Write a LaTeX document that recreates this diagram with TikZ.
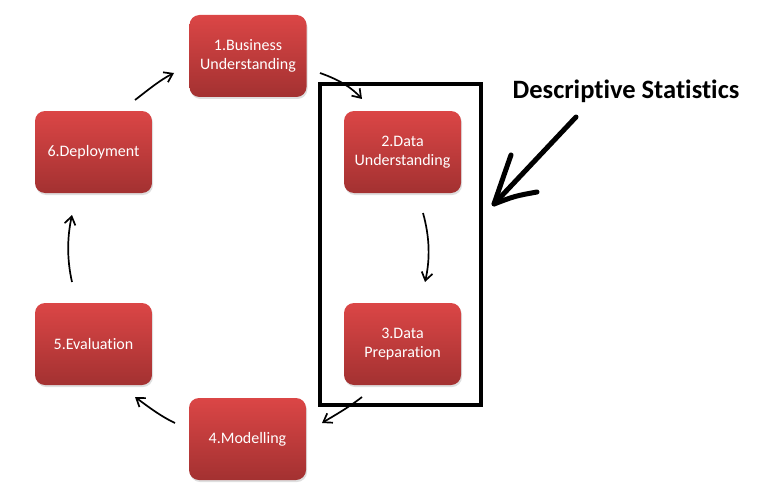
\documentclass[tikz,border=0pt]{standalone}
\usepackage{fontspec}
\setmainfont{Carlito}[Ligatures={NoCommon}]
\usetikzlibrary{arrows.meta,shadows}
\definecolor{boxtop}{HTML}{DB4646}
\definecolor{boxbot}{HTML}{A33131}
\tikzset{
  stage/.style={rounded corners=10pt, minimum width=117pt, minimum height=82pt,
    top color=boxtop, bottom color=boxbot, draw=none, text=white, align=center,
    font=\fontsize{16}{19.5}\selectfont,
    drop shadow={opacity=0.25, shadow xshift=1pt, shadow yshift=-2pt}},
  flow/.style={line width=1.7pt, -{Straight Barb[length=8pt,width=11pt,line width=1.7pt]}},
  hand/.style={line width=5pt, line cap=round, line join=round}
}
\begin{document}
\begin{tikzpicture}[x=1pt,y=-1pt]
\useasboundingbox (0,0) rectangle (759,500);
\node[stage] (b1) at (248,56) {1.Business\\Understanding};
\node[stage] (b2) at (402.5,152) {2.Data\\Understanding};
\node[stage] (b3) at (402.5,344) {3.Data\\Preparation};
\node[stage] (b4) at (247.5,439) {4.Modelling};
\node[stage] (b5) at (93.5,344) {5.Evaluation};
\node[stage] (b6) at (93.5,152) {6.Deployment};
% connector ends
\coordinate (a12s) at (320,73); \coordinate (a12e) at (362,99);
\coordinate (a23s) at (423,213); \coordinate (a23e) at (425,282);
\coordinate (a34s) at (362,397); \coordinate (a34e) at (322,423);
\coordinate (a45s) at (175,423); \coordinate (a45e) at (135,397);
\coordinate (a56s) at (72,282); \coordinate (a56e) at (72,215);
\coordinate (a61s) at (135,100); \coordinate (a61e) at (174,73);
\draw[flow] (a12s) .. controls (340,80) and (352,88) .. (a12e);
\draw[flow] (a23s) .. controls (430,238) and (430,260) .. (a23e);
\draw[flow] (a34s) .. controls (348,408) and (335,415) .. (a34e);
\draw[flow] (a45s) .. controls (160,416) and (146,405) .. (a45e);
\draw[flow] (a56s) .. controls (67,260) and (67,238) .. (a56e);
\draw[flow] (a61s) .. controls (148,90) and (160,80) .. (a61e);
% highlight frame
\node[draw, line width=4.5pt, minimum width=161pt, minimum height=321pt, inner sep=0pt] (frame) at (400.5,244.5) {};
% label and hand-drawn arrow
\node[font=\bfseries\fontsize{26.5}{30}\selectfont] (lbl) at (626,91) {Descriptive Statistics};
\coordinate (tail) at (576,117);
\coordinate (tip) at (494,204);
\coordinate (w1) at (511,155);
\coordinate (w2) at (537,192);
\draw[hand] (tail) -- (tip);
\draw[hand] (w1) .. controls (504,175) .. (tip) .. controls (515,196) .. (w2);
\end{tikzpicture}
\end{document}
